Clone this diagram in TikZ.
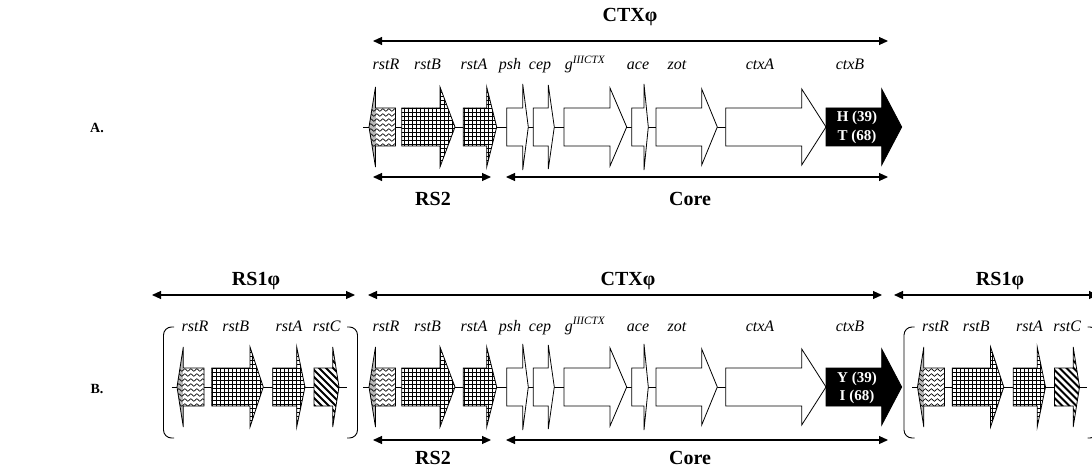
\documentclass[tikz,border=0pt]{standalone}
\usepackage{fontspec}
\setmainfont{Liberation Serif}
\usetikzlibrary{arrows.meta,decorations.pathmorphing}
\newcommand\RP[5]{(#1,#4-19) -- (#2,#4-19) -- (#2,#4-#5) -- (#3,#4) -- (#2,#4+#5) -- (#2,#4+19) -- (#1,#4+19) -- cycle}
\newcommand\LP[5]{(#3,#4-19) -- (#2,#4-19) -- (#2,#4-#5) -- (#1,#4) -- (#2,#4+#5) -- (#2,#4+19) -- (#3,#4+19) -- cycle}
\newcommand\whitegene[5]{\draw[gline,fill=white]\RP{#1}{#2}{#3}{#4}{#5};}
\newcommand\blackgene[5]{\draw[gline,fill=black]\RP{#1}{#2}{#3}{#4}{#5};}
\newcommand\gridgene[5]{\fill[white]\RP{#1}{#2}{#3}{#4}{#5};
  \begin{scope}\clip\RP{#1}{#2}{#3}{#4}{#5};
  \draw[gridln] (#1-2,#4-50) grid[step=4pt] (#3+2,#4+50);\end{scope}
  \draw[gline]\RP{#1}{#2}{#3}{#4}{#5};}
\newcommand\stripegene[5]{\fill[white]\RP{#1}{#2}{#3}{#4}{#5};
  \begin{scope}\clip\RP{#1}{#2}{#3}{#4}{#5};
  \foreach \k in {-70,-63,...,35}{\draw[line width=2pt] (#1+\k,#4-45) -- (#1+\k+90,#4+45);}\end{scope}
  \draw[gline]\RP{#1}{#2}{#3}{#4}{#5};}
\newcommand\wavegene[5]{\fill[gray!55]\LP{#1}{#2}{#3}{#4}{#5};
  \fill[white] (#2,#4-19) rectangle (#3,#4+19);
  \begin{scope}\clip\LP{#1}{#2}{#3}{#4}{#5};
  \foreach \k in {-17,-12,...,18}{\draw[waveln] (#1-6,#4+\k) -- (#3+6,#4+\k);}\end{scope}
  \draw[gline]\LP{#1}{#2}{#3}{#4}{#5};}
\tikzset{
  gline/.style={draw=black,line width=0.8pt},
  gridln/.style={line width=0.7pt},
  waveln/.style={line width=0.6pt,decorate,decoration={snake,segment length=6pt,amplitude=1.4pt}},
  bbone/.style={line width=0.9pt},
  dbl/.style={line width=1.1pt,{Triangle[length=9pt,width=8pt]}-{Triangle[length=9pt,width=8pt]}},
  glab/.style={anchor=base,inner sep=0pt,font=\fontsize{16}{18}\selectfont\itshape},
  blab/.style={anchor=base,inner sep=0pt,font=\fontsize{20}{22}\selectfont\bfseries},
  plab/.style={anchor=base,inner sep=0pt,font=\fontsize{14}{16}\selectfont\bfseries},
  wlab/.style={anchor=base,inner sep=0pt,text=white,font=\fontsize{15}{17}\selectfont\bfseries},
  brk/.style={line width=0.9pt,rounded corners=8pt}
}
\begin{document}
\begin{tikzpicture}[x=1pt,y=-1pt]
\clip (0,0) rectangle (1092,468);
\fill[white] (0,0) rectangle (1092,468);
% panel labels
\node[plab] (pA) at (97,132) {A.};
\node[plab] (pB) at (97,393) {B.};
% ---------- Panel A ----------
\node[blab] (ctxA) at (630,22) {CTXφ};
\coordinate (aL) at (373,41); \coordinate (aR) at (888,41);
\draw[dbl] (aL) -- (aR);
\coordinate (rsL) at (373,177); \coordinate (rsR) at (491,177);
\coordinate (coL) at (506,177); \coordinate (coR) at (888,177);
\draw[dbl] (rsL) -- (rsR);
\draw[dbl] (coL) -- (coR);
\node[blab] (rs2A) at (433,205) {RS2};
\node[blab] (coreA) at (690,205) {Core};
% ---------- Panel B headers ----------
\node[blab] (rs1L) at (256,285) {RS1φ};
\node[blab] (ctxB) at (628,285) {CTXφ};
\node[blab] (rs1R) at (1000,285) {RS1φ};
\coordinate (b1) at (152,295); \coordinate (b2) at (355,295);
\coordinate (b3) at (368,295); \coordinate (b4) at (882,295);
\coordinate (b5) at (894,295); \coordinate (b6) at (1098,295);
\draw[dbl] (b1) -- (b2);
\draw[dbl] (b3) -- (b4);
\draw[dbl] (b5) -- (b6);
\coordinate (rsBL) at (373,440); \coordinate (rsBR) at (491,440);
\coordinate (coBL) at (506,440); \coordinate (coBR) at (888,440);
\draw[dbl] (rsBL) -- (rsBR);
\draw[dbl] (coBL) -- (coBR);
\node[blab] (rs2B) at (433,464) {RS2};
\node[blab] (coreB) at (690,464) {Core};
% ---------- CTX gene clusters ----------
\foreach \yc/\ly/\ta/\tb in {127/70/H/T, 387/331/Y/I}{
  \draw[bbone] (363,\yc) -- (826,\yc);
  \wavegene{369}{375.5}{395.5}{\yc}{40}
  \gridgene{401.7}{440}{455}{\yc}{40}
  \gridgene{463.3}{486.7}{496.7}{\yc}{40}
  \whitegene{506.7}{522.7}{528.3}{\yc}{43}
  \whitegene{533.3}{548.3}{554.3}{\yc}{42}
  \whitegene{564}{610}{626.7}{\yc}{39}
  \whitegene{631.7}{644}{648.3}{\yc}{43}
  \whitegene{656}{701.7}{717.3}{\yc}{38}
  \whitegene{725.7}{801.7}{826}{\yc}{38}
  \blackgene{826}{881.7}{901.7}{\yc}{38}
  \node[wlab] at (857,\yc-5) {\ta\ (39)};
  \node[wlab] at (857,\yc+13) {\tb\ (68)};
  \node[glab] at (386,\ly) {rstR};
  \node[glab] at (427.5,\ly) {rstB};
  \node[glab] at (474,\ly) {rstA};
  \node[glab] at (510,\ly) {psh};
  \node[glab] at (540,\ly) {cep};
  \node[glab] at (585,\ly) {g\textsuperscript{IIICTX}};
  \node[glab] at (638,\ly) {ace};
  \node[glab] at (677,\ly) {zot};
  \node[glab] at (760,\ly) {ctxA};
  \node[glab] at (850,\ly) {ctxB};
}
% ---------- RS1 clusters ----------
\foreach \dx in {0,740.5}{
  \draw[bbone] (171.7+\dx,387) -- (346.7+\dx,387);
  \wavegene{177+\dx}{183.3+\dx}{204+\dx}{387}{40}
  \gridgene{211.7+\dx}{250+\dx}{263.3+\dx}{387}{40}
  \gridgene{272.7+\dx}{296.7+\dx}{305+\dx}{387}{40}
  \stripegene{314+\dx}{332.7+\dx}{339+\dx}{387}{40}
  \node[glab] at (195+\dx,331) {rstR};
  \node[glab] at (235.7+\dx,331) {rstB};
  \node[glab] at (289+\dx,331) {rstA};
  \node[glab] at (326.7+\dx,331) {rstC};
  \draw[brk] (174+\dx,327) -- (163.5+\dx,327) -- (163.5+\dx,438) -- (174+\dx,438);
  \draw[brk] (347+\dx,327) -- (357.5+\dx,327) -- (357.5+\dx,438) -- (347+\dx,438);
}
\end{tikzpicture}
\end{document}
